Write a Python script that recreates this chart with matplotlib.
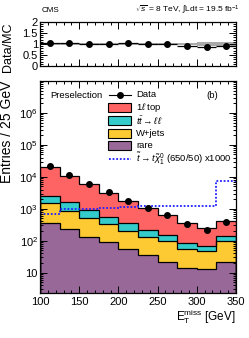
import numpy as np
import matplotlib
matplotlib.use("Agg")
import matplotlib.pyplot as plt
from matplotlib.patches import Rectangle
from matplotlib.lines import Line2D
from matplotlib.ticker import FixedLocator, MultipleLocator, FuncFormatter, LogLocator, NullFormatter

plt.rcParams['font.family'] = ['Liberation Sans', 'DejaVu Sans']
plt.rcParams['mathtext.fontset'] = 'custom'
plt.rcParams['mathtext.rm'] = 'Liberation Sans'
plt.rcParams['mathtext.it'] = 'Liberation Sans:italic'
plt.rcParams['mathtext.bf'] = 'Liberation Sans:bold'

# ---- data ----
bin_edges = [100, 125, 150, 175, 200, 225, 250, 275, 300, 325, 350]
rare = [360, 230, 129, 94, 54, 36, 22, 13.8, 13, 22]
wjets = [1150, 620, 371, 236, 140, 93, 78, 40, 35, 78]
ttll = [1080, 750, 430, 240, 161, 89, 50, 33, 21, 45]
top1l = [17900, 9100, 4970, 2630, 1400, 810, 500, 283, 189, 280]
data = [21700, 11300, 5900, 3260, 1800, 1030, 650, 340, 220, 390]
signal_x1000 = [700, 1000, 1000, 1080, 1150, 1180, 1230, 1230, 1230, 7500]
mc_unc = [0.03, 0.03, 0.03, 0.03, 0.03, 0.04, 0.04, 0.06, 0.07, 0.07]

edges = np.array(bin_edges, dtype=float)
centers = 0.5 * (edges[:-1] + edges[1:])
halfw = 0.5 * (edges[1:] - edges[:-1])

comps = [np.array(rare), np.array(wjets), np.array(ttll), np.array(top1l)]
colors = ['#986898', '#fdca33', '#34cbcb', '#fe6464']
labels_comp = ['rare', 'W+jets', r'$t\bar{t}\rightarrow \ell\ell$', r'1$\ell$ top']
sig_color = '#1f1fff'

W, H = 249, 338
fig = plt.figure(figsize=(W / 100, H / 100), dpi=100)
AX_L, AX_R, M_T, M_B = 40, 236, 81, 293
axm = fig.add_axes([AX_L / W, 1 - M_B / H, (AX_R - AX_L) / W, (M_B - M_T) / H])
axr = fig.add_axes([AX_L / W, 1 - 66 / H, (AX_R - AX_L) / W, 44 / H])

fs = 8

# stacked histogram
cum = np.zeros(len(centers))
for vals, col in zip(comps, colors):
    new = cum + vals
    axm.stairs(new, edges, baseline=(cum if cum.sum() > 0 else 1e-3), fill=True,
               color=col, lw=0)
    cum = new
cum = np.zeros(len(centers))
for vals in comps:
    cum = cum + vals
    axm.stairs(cum, edges, color='black', lw=0.9)
total = cum

axm.stairs(np.array(signal_x1000, dtype=float), edges, color=sig_color, lw=1.3,
           linestyle=(0, (1, 1)), baseline=None)

d = np.array(data, dtype=float)
axm.errorbar(centers, d, yerr=np.sqrt(d), fmt='o', color='black', ms=4, lw=0.8,
             capsize=0, zorder=5)

axm.set_yscale('log')
axm.set_xlim(100, 350)
axm.set_ylim(2.3, 1e7)


def logfmt(v, pos):
    e = int(round(np.log10(v)))
    if e == 1:
        return '10'
    return r'$10^{%d}$' % e


axm.yaxis.set_major_locator(FixedLocator([10, 1e2, 1e3, 1e4, 1e5, 1e6]))
axm.yaxis.set_major_formatter(FuncFormatter(logfmt))
axm.yaxis.set_minor_locator(LogLocator(base=10, subs=np.arange(2, 10), numticks=20))
axm.yaxis.set_minor_formatter(NullFormatter())
axm.xaxis.set_major_locator(MultipleLocator(50))
axm.xaxis.set_minor_locator(MultipleLocator(10))

for ax in (axm, axr):
    ax.tick_params(which='both', direction='in', top=True, right=True, labelsize=fs,
                   width=0.7)
    ax.tick_params(which='major', length=5)
    ax.tick_params(which='minor', length=2.5)
    for s in ax.spines.values():
        s.set_linewidth(0.9)

axm.tick_params(axis='x', pad=3)
axm.tick_params(axis='y', pad=1.5)
axm.set_ylabel('Entries / 25 GeV', fontsize=10, loc='top')
axm.set_xlabel(r'E$_{\mathrm{T}}^{\mathrm{miss}}$ [GeV]', fontsize=8.5, loc='right', labelpad=0)


def px(x, y):
    return ((x - AX_L) / (AX_R - AX_L), (M_B - y) / (M_B - M_T))


# manual legend
lfs = 6.8
labs = ['Data'] + labels_comp[::-1] + [r'$\tilde{t}\rightarrow t\tilde{\chi}_{1}^{0}$ (650/50) x1000']
for i, lab in enumerate(labs):
    yc = 94.7 + 12.8 * i
    if i == 0:
        x0, y0 = px(109, yc)
        x1, _ = px(131, yc)
        axm.add_line(Line2D([x0, x1], [y0, y0], color='black', lw=0.8,
                            transform=axm.transAxes))
        axm.plot([(x0 + x1) / 2], [y0], 'o', color='black', ms=4,
                 transform=axm.transAxes)
    elif i == len(labs) - 1:
        x0, y0 = px(109, yc)
        x1, _ = px(131, yc)
        axm.add_line(Line2D([x0, x1], [y0, y0], color=sig_color, lw=1.3,
                            linestyle=(0, (1, 1)), transform=axm.transAxes))
    else:
        col = colors[::-1][i - 1]
        xa, ya = px(108.3, yc + 4.5)
        xb, yb = px(131, yc - 4.5)
        axm.add_patch(Rectangle((xa, ya), xb - xa, yb - ya, facecolor=col,
                                edgecolor='black', lw=0.8, transform=axm.transAxes))
    tx, ty = px(136, yc)
    axm.text(tx, ty, lab, transform=axm.transAxes, fontsize=lfs, ha='left',
             va='center')

tx, ty = px(50, 95)
axm.text(tx, ty, 'Preselection', transform=axm.transAxes, fontsize=lfs,
         ha='left', va='center')
tx, ty = px(218, 95)
axm.text(tx, ty, '(b)', transform=axm.transAxes, fontsize=lfs,
         ha='right', va='center')

# ratio panel
ratio = d / total
unc = np.array(mc_unc)
axr.stairs(1 + unc, edges, baseline=1 - unc, fill=True, color='#aaaaaa', lw=0)
axr.errorbar(centers, ratio, xerr=halfw, yerr=np.sqrt(d) / total, fmt='o',
             color='black', ms=4, lw=0.9, capsize=0, zorder=5)
axr.set_xlim(100, 350)
axr.set_ylim(0, 2)
axr.yaxis.set_major_locator(FixedLocator([0, 0.5, 1, 1.5, 2]))
axr.yaxis.set_major_formatter(FuncFormatter(lambda v, p: '%g' % v))
axr.yaxis.set_minor_locator(MultipleLocator(0.1))
axr.xaxis.set_major_locator(MultipleLocator(50))
axr.xaxis.set_minor_locator(MultipleLocator(10))
axr.tick_params(axis='x', labelbottom=False)
axr.tick_params(axis='y', pad=1.5)
axr.set_ylabel('Data/MC', fontsize=9, loc='top')

fig.text(42 / W, 1 - 10 / H, 'CMS', fontsize=5.8, ha='left', va='center')
fig.text(240 / W, 1 - 10 / H,
         r'$\sqrt{s}$ = 8 TeV, $\int$Ldt = 19.5 fb$^{-1}$', fontsize=6,
         ha='right', va='center')

axm.yaxis.set_label_coords(-0.135, 1.0)
axr.yaxis.set_label_coords(-0.135, 1.0)

fig.savefig('out.png', dpi=100)
